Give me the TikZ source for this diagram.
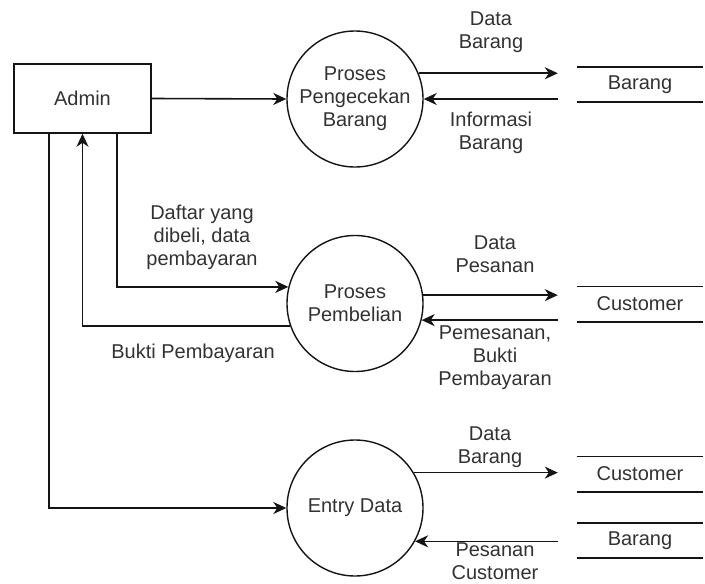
\documentclass[tikz,border=0pt]{standalone}
\usepackage{fontspec}
\setmainfont{Liberation Sans}
\usetikzlibrary{arrows.meta,calc}
\definecolor{txt}{RGB}{50,50,50}
\definecolor{ln}{RGB}{20,20,20}
\begin{document}
\begin{tikzpicture}[x=1pt,y=-1pt,
  every node/.style={font=\fontsize{20}{23}\selectfont, text=txt},
  arr/.style={draw=ln, line width=1.6pt, -{Stealth[length=13pt,width=12pt,inset=4pt]}},
  plain/.style={draw=ln, line width=1.6pt},
  proc/.style={circle, draw=ln, line width=1.4pt, minimum size=136pt, inner sep=0pt, align=center},
  entity/.style={rectangle, draw=ln, line width=1.5pt, minimum width=137pt, minimum height=69pt},
  store/.style={rectangle, draw=none, minimum width=126pt, minimum height=35pt, inner sep=0pt},
  lbl/.style={align=center, inner sep=0pt}]
\useasboundingbox (0,0) rectangle (705,584);

\node[entity] (admin) at (82.5,98.5) {Admin};
\node[proc] (p1) at (355,99) {Proses\\Pengecekan\\Barang};
\node[proc] (p2) at (355,303.5) {Proses\\Pembelian};
\node[proc] (p3) at (355,508) {Entry Data};

\node[store] (s1) at (640,84.5) {Barang};
\node[store] (s2) at (640,304) {Customer};
\node[store] (s3) at (640,474) {Customer};
\node[store] (s4) at (640,540.5) {Barang};
\foreach \s in {s1,s2,s3,s4}{
  \draw[plain] (\s.north west) -- (\s.north east);
  \draw[plain] (\s.south west) -- (\s.south east);
}
\coordinate (s1in) at ([xshift=-19pt]s1.west);
\coordinate (s2in) at ([xshift=-19pt]s2.west);
\coordinate (s3in) at ([xshift=-19pt]s3.west);
\coordinate (s4in) at ([xshift=-19pt]s4.west);

% Admin connections
\draw[arr] (admin.east) -- (p1.west);
\draw[arr] ([xshift=34.5pt]admin.south) |- (p2.166);
\draw[arr] (p2.199) -| (admin.south);
\draw[arr] ([xshift=-33.5pt]admin.south) |- (p3.west);

% Process 1 <-> Barang
\draw[arr] (p1.22.5) -- (s1in |- p1.22.5);
\draw[arr] (s1in |- p1.east) -- (p1.east);

% Process 2 <-> Customer
\draw[arr] (p2.7.2) -- (s2in |- p2.7.2);
\draw[arr] (s2in |- p2.-14) -- (p2.-14);

% Process 3 <-> stores
\draw[arr] (p3.31) -- (s3in |- p3.31);
\draw[arr] (s4in |- p3.-29) -- (p3.-29);

% Labels
\node[lbl] (l1) at (491,32) {Data\\Barang};
\node[lbl] (l2) at (491,133) {Informasi\\Barang};
\node[lbl] (l3) at (202,237) {Daftar yang\\dibeli, data\\pembayaran};
\node[lbl] (l4) at (193,353) {Bukti Pembayaran};
\node[lbl] (l5) at (495,254) {Data\\Pesanan};
\node[lbl] (l6) at (495,358) {Pemesanan,\\Bukti\\Pembayaran};
\node[lbl] (l7) at (490,447) {Data\\Barang};
\node[lbl] (l8) at (495,561) {Pesanan\\Customer};
\end{tikzpicture}
\end{document}
